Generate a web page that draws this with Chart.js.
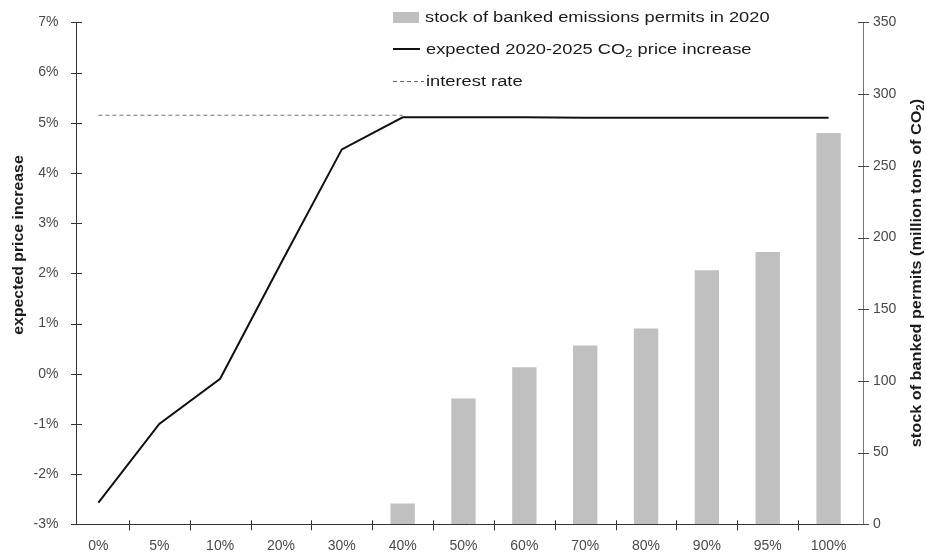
<!DOCTYPE html>
<html>
<head>
<meta charset="utf-8">
<script src="https://cdn.jsdelivr.net/npm/chart.js@4.4.1/dist/chart.umd.min.js"></script>
<style>
  body { margin: 0; background: #fff; }
  #wrap { position: relative; width: 926px; height: 555px; }
  #legend { position: absolute; left: 393px; top: 1px; font-family: "Liberation Sans", Arial, sans-serif; font-size: 15.5px; color: #1a1a1a; }
  .item { height: 32px; display: flex; align-items: center; white-space: nowrap; }
  .sw { flex: none; margin-right: 6px; }
  .box { width: 26px; height: 11px; background: #c0c0c0; }
  .solid { width: 27px; height: 2px; background: #111; }
  .dash { width: 31px; height: 1px; margin-right: 2px; background: repeating-linear-gradient(90deg, #666 0 4px, transparent 4px 7px); }
  .txt { display: inline-block; transform: scaleX(1.18); transform-origin: left center; }
  sub { font-size: 11px; vertical-align: -3px; line-height: 0; }
</style>
</head>
<body>
<div id="wrap">
  <canvas id="chart" width="926" height="555"></canvas>
  <div id="legend">
    <div class="item"><span class="sw box"></span><span class="txt">stock of banked emissions permits in 2020</span></div>
    <div class="item"><span class="sw solid"></span><span class="txt">expected 2020-2025 CO<sub>2</sub> price increase</span></div>
    <div class="item"><span class="sw dash"></span><span class="txt">interest rate</span></div>
  </div>
</div>
<script>
// categories on the x axis
const categories = ["0%", "5%", "10%", "20%", "30%", "40%", "50%", "60%", "70%", "80%", "90%", "95%", "100%"];

// expected 2020-2025 CO2 price increase (%)
const priceIncrease = [-2.57, -1.0, -0.1, 2.2, 4.47, 5.11, 5.11, 5.11, 5.1, 5.1, 5.1, 5.1, 5.1];

// interest rate (%), drawn up to the 40% point
const interestRate = [5.15, 5.15, 5.15, 5.15, 5.15, 5.15, null, null, null, null, null, null, null];

// stock of banked permits in 2020 (million tons of CO2)
const bankedStock = [null, null, null, null, null, 14.5, 87.8, 109.6, 124.6, 136.5, 177.1, 189.9, 272.9];

// tick labels
const leftTicks = [-3, -2, -1, 0, 1, 2, 3, 4, 5, 6, 7];
const rightTicks = [0, 50, 100, 150, 200, 250, 300, 350];

const tickFont = { family: "Liberation Sans, Arial, sans-serif", size: 14 };
const tickColor = "#4a4a4a";

// where the axis lines cross (the categories run a bit past them)
const leftAxisX = 76;
const rightAxisX = 863;

// draw axis lines, crossing tick marks and the two axis titles
const axisDecor = {
  id: "axisDecor",
  afterDatasetsDraw(chart) {
    const { ctx, chartArea, scales } = chart;
    const x = scales.x, y = scales.y, y2 = scales.y2;
    const bottom = chartArea.bottom, top = chartArea.top;
    ctx.save();
    ctx.lineWidth = 1;

    // left axis
    ctx.strokeStyle = "#333";
    ctx.beginPath();
    ctx.moveTo(leftAxisX + 0.5, top);
    ctx.lineTo(leftAxisX + 0.5, bottom);
    leftTicks.forEach((v) => {
      const py = Math.round(y.getPixelForValue(v)) + 0.5;
      ctx.moveTo(leftAxisX - 5, py);
      ctx.lineTo(leftAxisX + 6, py);
    });
    ctx.stroke();

    // bottom axis
    ctx.beginPath();
    ctx.moveTo(leftAxisX, Math.round(bottom) + 0.5);
    ctx.lineTo(rightAxisX, Math.round(bottom) + 0.5);
    for (let i = 1; i < categories.length; i++) {
      const px = Math.round((x.getPixelForValue(i - 1) + x.getPixelForValue(i)) / 2) + 0.5;
      ctx.moveTo(px, bottom - 4);
      ctx.lineTo(px, bottom + 6);
    }
    ctx.stroke();

    // right axis
    ctx.strokeStyle = "#777";
    ctx.beginPath();
    ctx.moveTo(rightAxisX + 0.5, top);
    ctx.lineTo(rightAxisX + 0.5, bottom);
    ctx.stroke();
    ctx.strokeStyle = "#444";
    ctx.beginPath();
    rightTicks.forEach((v) => {
      const py = Math.round(y2.getPixelForValue(v)) + 0.5;
      ctx.moveTo(rightAxisX - 5, py);
      ctx.lineTo(rightAxisX + 6, py);
    });
    ctx.stroke();

    // axis titles, reading bottom to top
    ctx.fillStyle = "#1a1a1a";
    ctx.textBaseline = "middle";
    ctx.textAlign = "left";
    const bold = "bold 14px 'Liberation Sans', Arial, sans-serif";
    const small = "bold 10px 'Liberation Sans', Arial, sans-serif";

    ctx.save();
    ctx.translate(19, 245);
    ctx.rotate(-Math.PI / 2);
    ctx.scale(1.13, 1);
    ctx.font = bold;
    const t1 = "expected price increase";
    ctx.fillText(t1, -ctx.measureText(t1).width / 2, 0);
    ctx.restore();

    ctx.save();
    ctx.translate(917, 273);
    ctx.rotate(-Math.PI / 2);
    ctx.scale(1.16, 1);
    ctx.font = bold;
    const a = "stock of banked permits (million tons of CO";
    const c = ")";
    const wa = ctx.measureText(a).width;
    const wc = ctx.measureText(c).width;
    ctx.font = small;
    const wb = ctx.measureText("2").width;
    let sx = -(wa + wb + wc) / 2;
    ctx.font = bold;
    ctx.fillText(a, sx, 0);
    ctx.font = small;
    ctx.fillText("2", sx + wa, 4);
    ctx.font = bold;
    ctx.fillText(c, sx + wa + wb, 0);
    ctx.restore();

    ctx.restore();
  },
};

const ctxChart = document.getElementById("chart");

new Chart(ctxChart, {
  type: "bar",
  data: {
    labels: categories,
    datasets: [
      {
        type: "line",
        label: "expected 2020-2025 CO2 price increase",
        data: priceIncrease,
        yAxisID: "y",
        borderColor: "#111",
        borderWidth: 2,
        pointRadius: 0,
        tension: 0,
        order: 1,
      },
      {
        type: "line",
        label: "interest rate",
        data: interestRate,
        yAxisID: "y",
        borderColor: "#777",
        borderWidth: 1,
        borderDash: [4, 3],
        pointRadius: 0,
        order: 2,
      },
      {
        type: "bar",
        label: "stock of banked emissions permits in 2020",
        data: bankedStock,
        yAxisID: "y2",
        backgroundColor: "#c0c0c0",
        barPercentage: 0.4,
        categoryPercentage: 1,
        order: 3,
      },
    ],
  },
  options: {
    responsive: false,
    animation: false,
    layout: { padding: { top: 15.7, left: 0, right: 0, bottom: 0 } },
    plugins: {
      legend: { display: false },
      tooltip: { enabled: false },
    },
    scales: {
      x: {
        grid: { display: false, drawTicks: false },
        border: { display: false },
        ticks: { color: tickColor, font: tickFont, padding: 13, maxRotation: 0, autoSkip: false },
        afterFit: (s) => { s.height = 30.7; },
      },
      y: {
        position: "left",
        min: -3,
        max: 7,
        grid: { display: false, drawTicks: false },
        border: { display: false },
        afterBuildTicks: (s) => { s.ticks = leftTicks.map((v) => ({ value: v })); },
        ticks: { color: tickColor, font: tickFont, padding: 9.5, callback: (v) => v + "%" },
        afterFit: (s) => { s.width = 68; },
      },
      y2: {
        position: "right",
        min: 0,
        max: 350,
        grid: { display: false, drawTicks: false },
        border: { display: false },
        afterBuildTicks: (s) => { s.ticks = rightTicks.map((v) => ({ value: v })); },
        ticks: { color: tickColor, font: tickFont, padding: 14 },
        afterFit: (s) => { s.width = 67; },
      },
    },
  },
  plugins: [axisDecor],
});
</script>
</body>
</html>
